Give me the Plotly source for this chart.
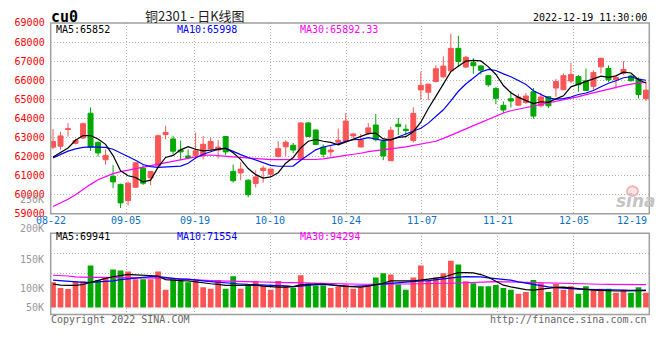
import plotly.graph_objects as go

# ---------------- data ----------------
tick_idx = [0, 10, 19, 29, 39, 49, 59, 69, 79]
tick_labels = ["08-22", "09-05", "09-19", "10-10", "10-24", "11-07", "11-21", "12-05", "12-19"]

opens = [62490, 62540, 63420, 62690, 62970, 64270, 62740, 61830, 60960, 60540,
         59690, 60390, 61390, 60880, 61510, 63150, 62920, 62340, 62030, 62060,
         62040, 62400, 62340, 63050, 61220, 61140, 60760, 60590, 61270, 61070,
         62000, 62510, 62590, 61900, 63760, 63390, 62490, 62240, 62750, 62800,
         63080, 62500, 63220, 63650, 62790, 61780, 63690, 63430, 62840, 65490,
         65370, 65930, 66180, 66490, 67670, 66690, 66920, 66750, 66240, 65560,
         64680, 65030, 64690, 64830, 65390, 64660, 65140, 65590, 65500, 65960,
         66190, 65970, 65680, 66700, 66610, 66020, 66360, 66220, 66050, 65030]
highs = [63440, 63300, 63750, 62930, 63780, 64570, 62780, 62370, 61550, 60580,
         60680, 61690, 61550, 61250, 63140, 63610, 63080, 62840, 62370, 63250,
         63080, 63010, 62880, 63060, 61580, 61700, 60810, 61270, 61520, 61360,
         62800, 62850, 62710, 63780, 63810, 63420, 62630, 62540, 63470, 64270,
         63230, 63180, 63760, 64230, 62890, 63560, 64020, 63680, 64580, 66440,
         65810, 66780, 67250, 68430, 68330, 67280, 67150, 66780, 66270, 65640,
         64880, 65420, 65290, 65320, 65590, 65340, 65170, 66070, 66350, 66910,
         66270, 66610, 66520, 67170, 66780, 66270, 67000, 66300, 66140, 65930]
lows = [62370, 62360, 63040, 62640, 62910, 62290, 62000, 61570, 60340, 59300,
        59440, 60370, 60510, 60500, 61490, 62900, 62120, 61800, 61850, 61870,
        61850, 62370, 61900, 62070, 60630, 60760, 59860, 60370, 60630, 60930,
        61950, 62030, 62170, 61830, 63020, 62590, 61950, 62030, 62630, 62740,
        62950, 62490, 63130, 62790, 61810, 61760, 63130, 63100, 62740, 65000,
        64950, 65880, 66100, 66440, 66690, 66640, 66340, 66300, 65660, 64740,
        64270, 64570, 64660, 64740, 63980, 64570, 64540, 65130, 65490, 65840,
        65390, 65440, 65500, 66360, 65900, 65560, 66270, 65930, 65050, 64910]
closes = [62790, 63080, 63450, 62840, 63720, 62500, 62190, 62060, 60670, 59570,
          60600, 61670, 60600, 61210, 63090, 63260, 62280, 62240, 61940, 62300,
          62640, 62790, 62490, 62240, 60730, 61340, 60000, 60930, 61390, 61340,
          62410, 62750, 62340, 63760, 63050, 62630, 62120, 62340, 62850, 63860,
          63180, 62870, 63500, 62880, 62030, 63380, 63580, 63360, 64260, 65730,
          65790, 66600, 66740, 67670, 66980, 67200, 66760, 66520, 65760, 65050,
          64440, 64910, 65120, 65170, 64120, 65120, 64660, 65930, 66240, 66300,
          65760, 65460, 66400, 67150, 66020, 66140, 66560, 65970, 65250, 65480]

ma5 = [61980, 62200, 62450, 62850, 63100, 63100, 62920, 62640, 62050, 61250,
       60990, 60900, 60670, 60760, 61440, 61950, 62060, 62350, 62520, 62380,
       62300, 62330, 62400, 62430, 62200, 61850, 61370, 61050, 60870, 60930,
       61150, 61650, 61950, 62450, 62800, 62890, 62800, 62740, 62610, 62750,
       62880, 63030, 63200, 63220, 62920, 62870, 63000, 63040, 63300, 63800,
       64520, 65150, 65820, 66450, 66730, 67000, 67040, 67010, 66700, 66300,
       65720, 65340, 65100, 64950, 64770, 64870, 64840, 65020, 65180, 65650,
       65780, 65940, 66050, 66210, 66150, 66230, 66420, 66380, 66020, 65852]
ma10 = [61930, 62100, 62280, 62400, 62480, 62510, 62510, 62480, 62380, 62200,
        61980, 61800, 61580, 61470, 61430, 61450, 61460, 61500, 61650, 61920,
        62120, 62250, 62380, 62440, 62260, 62100, 61950, 61800, 61650, 61540,
        61490, 61490, 61500, 61800, 62070, 62350, 62500, 62580, 62660, 62800,
        62880, 62900, 62990, 62920, 62830, 62880, 63030, 63140, 63290, 63480,
        63750, 64120, 64450, 64920, 65420, 65800, 66110, 66430, 66570, 66510,
        66330, 66180, 65980, 65780, 65450, 65250, 65060, 65010, 65030, 65120,
        65250, 65330, 65460, 65660, 65840, 65970, 66130, 66180, 66060, 65998]
ma30 = [59380, 59560, 59760, 60000, 60280, 60540, 60780, 60950, 61100, 61210,
        61290, 61380, 61450, 61510, 61600, 61700, 61780, 61850, 61930, 61990,
        62060, 62080, 62060, 62030, 61980, 61950, 61920, 61880, 61850, 61840,
        61840, 61840, 61840, 61840, 61840, 61845, 61880, 61930, 61990, 62060,
        62120, 62170, 62260, 62300, 62340, 62390, 62450, 62510, 62580, 62650,
        62720, 62800, 62950, 63100, 63280, 63450, 63620, 63800, 63980, 64150,
        64280, 64400, 64480, 64570, 64660, 64740, 64820, 64900, 64970, 65050,
        65140, 65240, 65340, 65440, 65540, 65640, 65720, 65790, 65850, 65892.33]

volume = [104000, 80000, 76000, 108000, 108000, 173000, 113000, 124000, 157000, 153000,
          149000, 117000, 117000, 117000, 149000, 73000, 117000, 117000, 104000, 113000,
          84000, 77000, 113000, 77000, 129000, 77000, 95000, 108000, 91000, 73000,
          109000, 91000, 81000, 133000, 100000, 91000, 91000, 80000, 88000, 95000,
          77000, 84000, 95000, 124000, 141000, 136000, 95000, 73000, 124000, 173000,
          111000, 124000, 141000, 193000, 177000, 108000, 100000, 88000, 88000, 93000,
          80000, 73000, 57000, 64000, 113000, 100000, 64000, 97000, 73000, 88000,
          57000, 88000, 71000, 77000, 77000, 61000, 73000, 61000, 84000, 61000]
vol_ma5 = [97000, 92000, 91000, 91000, 95000, 104000, 112000, 120000, 127000, 133000,
           137000, 135000, 133000, 132000, 130000, 115000, 112000, 111000, 110000, 105000,
           103000, 98000, 95000, 91000, 91000, 92000, 93000, 92000, 88000, 85000,
           84000, 84000, 86000, 93000, 96000, 97000, 97000, 95000, 90000, 87000,
           85000, 84000, 88000, 93000, 100000, 110000, 110000, 108000, 110000, 113000,
           116000, 120000, 125000, 135000, 144000, 144000, 143000, 136000, 125000, 108000,
           92000, 85000, 79000, 74000, 72000, 76000, 80000, 83000, 84000, 82000,
           78000, 75000, 72000, 70000, 69000, 68000, 68000, 67000, 69000, 69941]
vol_ma10 = [113000, 110000, 107000, 105000, 104000, 104000, 105000, 107000, 110000, 115000,
            118000, 122000, 126000, 127000, 127000, 124000, 119000, 117000, 117000, 115000,
            110000, 107000, 104000, 100000, 99000, 97000, 95000, 93000, 92000, 91000,
            90000, 89000, 86000, 88000, 92000, 94000, 95000, 92000, 89000, 88000,
            87000, 88000, 90000, 94000, 97000, 99000, 101000, 104000, 107000, 110000,
            111000, 115000, 119000, 121000, 125000, 127000, 127000, 126000, 122000, 120000,
            116000, 113000, 106000, 100000, 96000, 90000, 85000, 82000, 79000, 77000,
            76000, 75000, 75000, 75000, 74000, 73000, 72000, 71000, 71000, 71554]
vol_ma30 = [133000, 133000, 130000, 126000, 124000, 124000, 124000, 124000, 124000, 124000,
            124000, 124000, 124000, 124000, 123000, 121000, 119000, 117000, 114000, 113000,
            112000, 111000, 110000, 109000, 107000, 107000, 106000, 106000, 105000, 104000,
            104000, 103000, 103000, 102000, 101000, 101000, 100000, 98000, 97000, 97000,
            96000, 96000, 96000, 97000, 97000, 97000, 97000, 97000, 98000, 98000,
            98000, 99000, 100000, 100000, 101000, 103000, 106000, 107000, 107000, 107000,
            106000, 105000, 104000, 103000, 102000, 101000, 100000, 99000, 98000, 98000,
            97000, 97000, 96500, 96000, 95500, 95000, 95000, 94500, 94300, 94294]

# ---------------- layout constants (pixels of the 660x360 window) ----------------
W, H = 660, 360
X0, X1 = 50.7, 649.3
MAIN_T, MAIN_B = 17.5, 214.3
VOL_T, VOL_B = 234.3, 318.3
VOL_MIN, VOL_MAX = -29200, 306800
XR = [-0.31, 79.44]

RED = "#fa5555"
GREEN = "#00a800"
GRID = "#b4b4b4"
FRAME = "#a0a0a0"
MONO = "DejaVu Sans Mono"


def fx(p):
    return p / W


def fy(p):
    return 1 - p / H


n = len(closes)
x = list(range(n))
grid_pos = [XR[0] + (i / (n - 1)) * (XR[1] - XR[0]) for i in tick_idx]
vol_colors = [RED if c >= o else GREEN for o, c in zip(opens, closes)]

fig = go.Figure()

fig.add_trace(go.Candlestick(
    x=x, open=opens, high=highs, low=lows, close=closes,
    increasing=dict(line=dict(color=RED, width=1), fillcolor=RED),
    decreasing=dict(line=dict(color=GREEN, width=1), fillcolor=GREEN),
    whiskerwidth=0, xaxis="x", yaxis="y", hoverinfo="skip"))

for arr, col in ((ma30, "#ff00ff"), (ma10, "#0000ff"), (ma5, "#000000")):
    fig.add_trace(go.Scatter(x=x, y=arr, mode="lines", line=dict(color=col, width=1.2),
                             xaxis="x", yaxis="y", hoverinfo="skip"))

fig.add_trace(go.Bar(x=x, y=volume, marker=dict(color=vol_colors, line=dict(width=0)),
                     width=0.76, xaxis="x2", yaxis="y2", hoverinfo="skip"))
for arr, col in ((vol_ma30, "#ff00ff"), (vol_ma10, "#0000ff"), (vol_ma5, "#000000")):
    fig.add_trace(go.Scatter(x=x, y=arr, mode="lines", line=dict(color=col, width=1.2),
                             xaxis="x2", yaxis="y2", hoverinfo="skip"))

axis_common = dict(showline=False, zeroline=False, showgrid=True, gridcolor=GRID,
                   griddash="1px,2px", gridwidth=1)

vol_ticks = [VOL_MIN + k * (VOL_MAX - VOL_MIN) / 4 for k in (1, 2, 3)]

fig.update_layout(
    width=W, height=H, margin=dict(l=0, r=0, t=0, b=0),
    paper_bgcolor="white", plot_bgcolor="white", showlegend=False,
    boxgap=0.34, boxgroupgap=0,
    xaxis=dict(domain=[fx(X0), fx(X1)], range=XR, tickvals=grid_pos, showticklabels=False,
               rangeslider=dict(visible=False), anchor="y", **axis_common),
    yaxis=dict(domain=[fy(MAIN_B), fy(MAIN_T)], range=[59000, 69000], tick0=59000, dtick=1000,
               tickformat="d", ticks="outside", ticklen=3, tickcolor="rgba(0,0,0,0)",
               tickfont=dict(family=MONO, size=10, color="#ff0000"), anchor="x", **axis_common),
    xaxis2=dict(domain=[fx(X0), fx(X1)], range=XR, tickvals=grid_pos, showticklabels=False,
                rangeslider=dict(visible=False), anchor="y2", **axis_common),
    yaxis2=dict(domain=[fy(VOL_B), fy(VOL_T)], range=[VOL_MIN, VOL_MAX], tickvals=vol_ticks,
                showticklabels=False, anchor="x2", **axis_common),
)

# frames
for top, bot in ((MAIN_T, MAIN_B), (VOL_T, VOL_B)):
    fig.add_shape(type="rect", xref="paper", yref="paper", x0=fx(X0), x1=fx(X1),
                  y0=fy(bot), y1=fy(top), line=dict(color=FRAME, width=1.5), layer="above")

ann = []


def text(t, px, py, color="#000", size=10, xanchor="left", family=MONO, **kw):
    ann.append(dict(text=t, x=fx(px), y=fy(py), xref="paper", yref="paper", showarrow=False,
                    xanchor=xanchor, yanchor="middle",
                    font=dict(family=family, size=size, color=color, **kw)))


text("cu0", 49, 11, size=15, weight="bold")
text("铜2301 - 日K线图", 195, 10, color="#222", size=13, xanchor="center", family="Noto Sans CJK SC")
text("2022-12-19 11:30:00", 649, 12, xanchor="right")
text("MA5:65852", 54, 24)
text("MA10:65998", 175, 24, color="#0000ff")
text("MA30:65892.33", 298, 24, color="#ff00ff")
text("MA5:69941", 54, 238)
text("MA10:71554", 175, 238, color="#0000ff")
text("MA30:94294", 298, 238, color="#ff00ff")
for lab, py in (("250K", 200), ("200K", 230), ("150K", 261), ("100K", 291), ("50K", 311)):
    text(lab, 46, py, color="#999999", xanchor="right")
text("Copyright 2022 SINA.COM", 49, 323, color="#666666")
text("http://finance.sina.com.cn", 649, 323, color="#666666", xanchor="right")
text("sina", 636, 201, color="#c4c4c4", size=17, xanchor="center", family="DejaVu Sans",
     weight="bold", style="italic")

for k, (gp, lab) in enumerate(zip(grid_pos, tick_labels)):
    last = k == len(grid_pos) - 1
    ann.append(dict(text=lab, x=fx(X1) if last else gp, y=fy(221),
                    xref="paper" if last else "x", yref="paper", showarrow=False,
                    xanchor="right" if last else "center", yanchor="middle",
                    font=dict(family=MONO, size=10, color="#0a70c8")))

fig.update_layout(annotations=ann)
fig.add_shape(type="circle", xref="paper", yref="paper", x0=fx(627), x1=fx(638),
              y0=fy(196), y1=fy(186), line=dict(color="#f2b4b4", width=2),
              fillcolor="rgba(242,180,180,0.35)", layer="above")

# remove the page's default 8px body margin so the figure fills the window exactly
fig.write_html("out.html", config={"displayModeBar": False},
               post_script="document.body.style.margin='0';")
